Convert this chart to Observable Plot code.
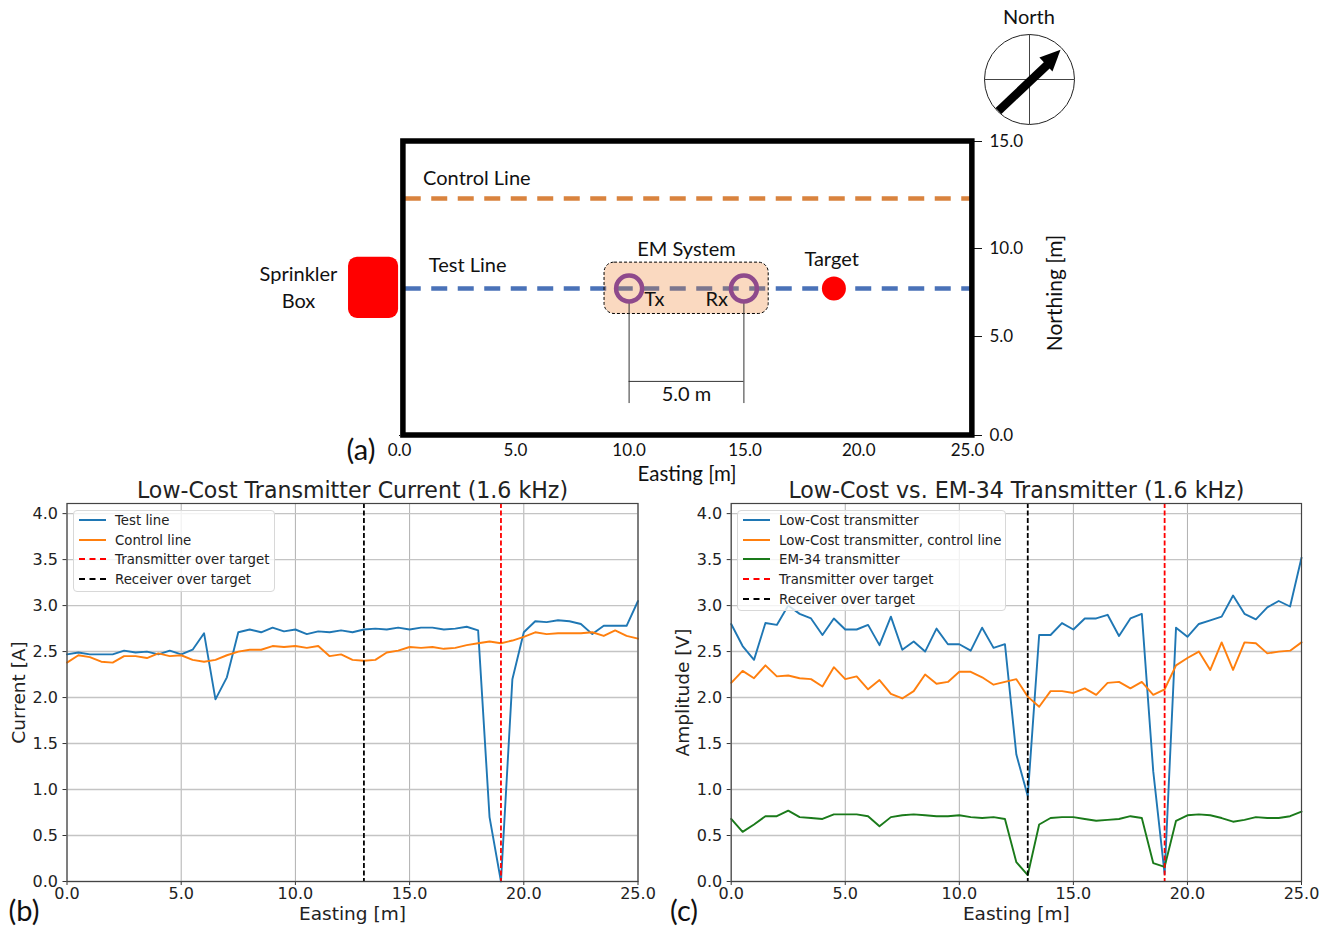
<!DOCTYPE html>
<html><head><meta charset="utf-8">
<script src="https://cdn.jsdelivr.net/npm/d3@7"></script>
<script src="https://cdn.jsdelivr.net/npm/@observablehq/plot@0.6"></script>
<style>
html,body{margin:0;padding:0;background:#fff}
#page{position:relative;width:1330px;height:927px;overflow:hidden}
#page>svg{position:absolute;background:transparent;overflow:visible}
.note{position:absolute;white-space:nowrap;transform:translate(-50%,-50%);color:#111}
.legend{position:absolute;box-sizing:border-box;border:1px solid #d8d8d8;border-radius:4px;background:rgba(255,255,255,.8);font:13.3px "DejaVu Sans";color:#222}
.legend div{position:absolute;white-space:nowrap;line-height:16px;transform:translateY(-50%)}
.legend i{position:absolute;height:0;border-top:2px solid}
</style></head><body><div id="page"></div>
<script>
const easting = d3.range(0, 25.5, 0.5);
const testCurrent = [2.47,2.49,2.47,2.47,2.47,2.51,2.49,2.50,2.47,2.51,2.47,2.52,2.70,1.98,2.22,2.71,2.74,2.71,2.76,2.72,2.74,2.69,2.72,2.71,2.73,2.71,2.74,2.75,2.74,2.76,2.74,2.76,2.76,2.74,2.75,2.77,2.73,0.70,0.0,2.20,2.71,2.83,2.82,2.84,2.83,2.80,2.69,2.78,2.78,2.78,3.05];
const controlCurrent = [2.38,2.46,2.44,2.39,2.38,2.45,2.45,2.43,2.48,2.45,2.46,2.41,2.39,2.41,2.46,2.50,2.52,2.52,2.56,2.55,2.56,2.54,2.56,2.45,2.47,2.41,2.40,2.41,2.49,2.51,2.55,2.54,2.55,2.53,2.54,2.57,2.59,2.61,2.59,2.62,2.66,2.71,2.69,2.70,2.70,2.70,2.71,2.67,2.73,2.67,2.64];
const lowCost = [2.80,2.56,2.41,2.81,2.79,3.00,2.91,2.86,2.68,2.86,2.74,2.74,2.79,2.57,2.88,2.52,2.61,2.50,2.75,2.58,2.58,2.51,2.76,2.54,2.58,1.38,0.93,2.68,2.68,2.81,2.74,2.86,2.86,2.90,2.67,2.86,2.91,1.20,0.08,2.76,2.66,2.80,2.84,2.88,3.11,2.91,2.85,2.98,3.05,2.99,3.52];
const lowCostControl = [2.16,2.29,2.21,2.35,2.23,2.24,2.21,2.20,2.12,2.33,2.20,2.23,2.09,2.19,2.04,1.99,2.07,2.25,2.15,2.17,2.28,2.28,2.22,2.14,2.17,2.20,2.01,1.90,2.07,2.07,2.05,2.10,2.03,2.16,2.17,2.10,2.17,2.03,2.09,2.35,2.43,2.50,2.30,2.60,2.30,2.60,2.59,2.48,2.50,2.51,2.60];
const em34 = [.68,.54,.62,.71,.71,.77,.70,.69,.68,.73,.73,.73,.71,.60,.70,.72,.73,.72,.71,.71,.72,.70,.69,.70,.68,.21,.07,.62,.69,.70,.70,.68,.66,.67,.68,.71,.69,.20,.16,.66,.72,.73,.72,.69,.65,.67,.70,.69,.69,.71,.76];
const xTicks = [0,5,10,15,20,25];
const xTickSpots = [0,5.05,10,15.05,20,24.74];
const yTicks = [0,.5,1,1.5,2,2.5,3,3.5,4];
const northTicks = [0,5,10,15];
const northSpots = [0,5.05,9.54,15];
const BLUE="#1f77b4", ORANGE="#ff7f0e", GREEN="#1a7a1a";
const f1 = d3.format(".1f");
/* the printed Northing ticks are unevenly spaced in the reference */
const W = d3.scaleLinear().domain(northTicks).range(northSpots);
const page = document.getElementById("page");
function place(el,l,t){el.style.left=l+"px";el.style.top=t+"px";page.appendChild(el);return el;}
function note(txt,x,y,size,font,rot){const d=document.createElement("div");d.className="note";d.textContent=txt;
  d.style.left=x+"px";d.style.top=y+"px";d.style.font=size+"px "+font;if(rot)d.style.transform="translate(-50%,-50%) rotate("+rot+"deg)";page.appendChild(d);}
function legend(l,t,w,h,rows){const b=document.createElement("div");b.className="legend";
  b.style.cssText+=`left:${l}px;top:${t}px;width:${w}px;height:${h}px`;
  rows.forEach(r=>{const s=document.createElement("i");s.style.cssText=`left:5px;width:27px;top:${r.y-t-2}px;border-top-color:${r.c};border-top-style:${r.dash?"dashed":"solid"}`;b.appendChild(s);
    const x=document.createElement("div");x.textContent=r.t;x.style.cssText=`left:41px;top:${r.y-t}px`;b.appendChild(x);});
  page.appendChild(b);}
function series(vals){return vals.map((v,i)=>({x:easting[i],y:v}));}
function panel(title,yLabel,lines,left,mL,mR){
  return place(Plot.plot({width:665,height:457,marginLeft:mL,marginRight:mR,marginTop:33,marginBottom:46,
    style:{fontFamily:"DejaVu Sans",background:"transparent",color:"#222"},
    x:{domain:[0,25]},y:{domain:[0,4.11]},
    marks:[
      Plot.gridX(xTicks,{stroke:"#b0b0b0",strokeOpacity:1,strokeWidth:1}),
      Plot.gridY(yTicks,{stroke:"#c4c4c4",strokeOpacity:1,strokeWidth:1.4}),
      Plot.axisX({ticks:xTicks,tickFormat:f1,fontSize:16,tickSize:4,tickPadding:2,label:null,stroke:"#333"}),
      Plot.axisY({ticks:yTicks,tickFormat:f1,fontSize:16,tickSize:4,tickPadding:5,label:null,stroke:"#333"}),
      ...lines.map(([v,c])=>Plot.lineY(series(v),{x:"x",y:"y",stroke:c,strokeWidth:1.9,curve:"linear"})),
      Plot.ruleX([13],{stroke:"#000",strokeWidth:1.8,strokeDasharray:"5 2.5"}),
      Plot.ruleX([19],{stroke:"#f00",strokeWidth:1.8,strokeDasharray:"5 2.5"}),
      Plot.frame({stroke:"#444",strokeWidth:1.2}),
      Plot.text([title],{frameAnchor:"top",lineAnchor:"bottom",dy:-6,fontSize:22.1,fill:"#222"}),
      Plot.text(["Easting [m]"],{frameAnchor:"bottom",lineAnchor:"middle",dy:33,fontSize:18.5,fill:"#222"}),
      Plot.text([yLabel],{frameAnchor:"left",textAnchor:"middle",rotate:-90,dx:-48,fontSize:18.5,fill:"#222"})
    ]}),left,470);
}
panel("Low-Cost Transmitter Current (1.6 kHz)","Current [A]",[[testCurrent,BLUE],[controlCurrent,ORANGE]],0,66.5,27.5);
panel("Low-Cost vs. EM-34 Transmitter (1.6 kHz)","Amplitude [V]",[[lowCost,BLUE],[lowCostControl,ORANGE],[em34,GREEN]],665,65.7,29);
legend(73,510,202,82,[{t:"Test line",c:BLUE,y:520},{t:"Control line",c:ORANGE,y:540},{t:"Transmitter over target",c:"#f00",dash:1,y:559},{t:"Receiver over target",c:"#000",dash:1,y:579}]);
legend(737,510,269,101,[{t:"Low-Cost transmitter",c:BLUE,y:520},{t:"Low-Cost transmitter, control line",c:ORANGE,y:540},{t:"EM-34 transmitter",c:GREEN,y:559},{t:"Transmitter over target",c:"#f00",dash:1,y:579},{t:"Receiver over target",c:"#000",dash:1,y:599}]);

/* site map, panel (a) */
const lineEast=[0.25,24.9];
const controlSpot=12.09, testSpot=7.5;
const coilEast=[10,15];
const labels=[{x:3.37,y:13.1,t:"Control Line"},{x:2.97,y:8.65,t:"Test Line"},{x:12.5,y:9.5,t:"EM System"},{x:18.82,y:8.95,t:"Target"},{x:11.1,y:6.95,t:"Tx"},{x:13.82,y:6.95,t:"Rx"},{x:12.5,y:2.1,t:"5.0 m"},{x:-4.4,y:8.2,t:"Sprinkler"},{x:-4.4,y:6.85,t:"Box"}];
place(Plot.plot({width:1330,height:480,marginLeft:399,marginRight:357,marginTop:141,marginBottom:45,
  style:{fontFamily:"Lato",background:"transparent",color:"#111"},
  x:{domain:[0,25]},
  y:{domain:[0,15]},
  marks:[
    Plot.axisX({ticks:xTicks,tickFormat:()=>null,tickSize:1,label:null}),
    Plot.text(xTicks,{x:(d,i)=>xTickSpots[i],text:f1,frameAnchor:"bottom",lineAnchor:"middle",dy:15,fontSize:17,fill:"#111"}),
    Plot.axisY({anchor:"right",ticks:northSpots,tickFormat:d=>f1(W.invert(d)),fontSize:17,tickSize:8,tickPadding:8,label:null}),
    Plot.ruleY([controlSpot],{x1:lineEast[0],x2:lineEast[1],stroke:"#d9833e",strokeWidth:4.5,strokeDasharray:"16 10.5"}),
    Plot.ruleY([testSpot],{x1:lineEast[0],x2:lineEast[1],stroke:"#4a72b8",strokeWidth:4.5,strokeDasharray:"16 10.5"}),
    Plot.rect([{x1:8.93,x2:16.08,y1:6.2,y2:8.82}],{x1:"x1",x2:"x2",y1:"y1",y2:"y2",fill:"#f08030",fillOpacity:.3,stroke:"#000",strokeWidth:1,strokeDasharray:"3 2",rx:10}),
    Plot.rect([{x1:-2.22,x2:-0.04,y1:5.97,y2:9.1}],{x1:"x1",x2:"x2",y1:"y1",y2:"y2",fill:"#ff0000",rx:9}),
    Plot.ruleX(coilEast,{y1:1.63,y2:6.79,stroke:"#333",strokeWidth:1}),
    Plot.ruleY([2.76],{x1:coilEast[0],x2:coilEast[1],stroke:"#333",strokeWidth:1}),
    Plot.dot(coilEast.map(x=>({x,y:testSpot})),{x:"x",y:"y",r:13,fill:"none",stroke:"#8f4a8c",strokeWidth:4.5}),
    Plot.dot([{x:18.92,y:testSpot}],{x:"x",y:"y",r:14.5,fill:"#fff",stroke:"#fff"}),
    Plot.dot([{x:18.92,y:testSpot}],{x:"x",y:"y",r:12,fill:"#ff0000"}),
    Plot.rect([{x1:0.17,x2:24.95,y1:0,y2:15}],{x1:"x1",x2:"x2",y1:"y1",y2:"y2",fill:"none",stroke:"#000",strokeWidth:5.5}),
    Plot.text(labels,{x:"x",y:"y",text:"t",fontSize:20,fill:"#111"})
  ]}),0,0);
note("(a)",361,448,29,"Lato");
note("(b)",24,909,29,"Lato");
note("(c)",684,909,29,"Lato");
note("Easting [m]",687,473,20.5,"Lato");
note("Northing [m]",1053,293,21,"Lato",-90);
note("North",1029,16,20,"Lato");

/* compass */
const shaft=[{x:-.69,y:-.7},{x:.4,y:.33}];
const head=[{x:.69,y:.66},{x:.22,y:.49},{x:.51,y:.18}];
place(Plot.plot({width:100,height:100,margin:5,
  x:{domain:[-1,1],axis:null},y:{domain:[-1,1],axis:null},
  style:{background:"transparent"},
  marks:[
    Plot.dot([{x:0,y:0}],{x:"x",y:"y",r:45,fill:"#fff",stroke:"#222",strokeWidth:1}),
    Plot.ruleX([0],{stroke:"#444",strokeWidth:1}),
    Plot.ruleY([0],{stroke:"#444",strokeWidth:1}),
    Plot.line(shaft,{x:"x",y:"y",stroke:"#000",strokeWidth:8.5,strokeLinecap:"butt"}),
    Plot.line(head,{x:"x",y:"y",fill:"#000",stroke:"none"})
  ]}),979,29);
</script></body></html>
